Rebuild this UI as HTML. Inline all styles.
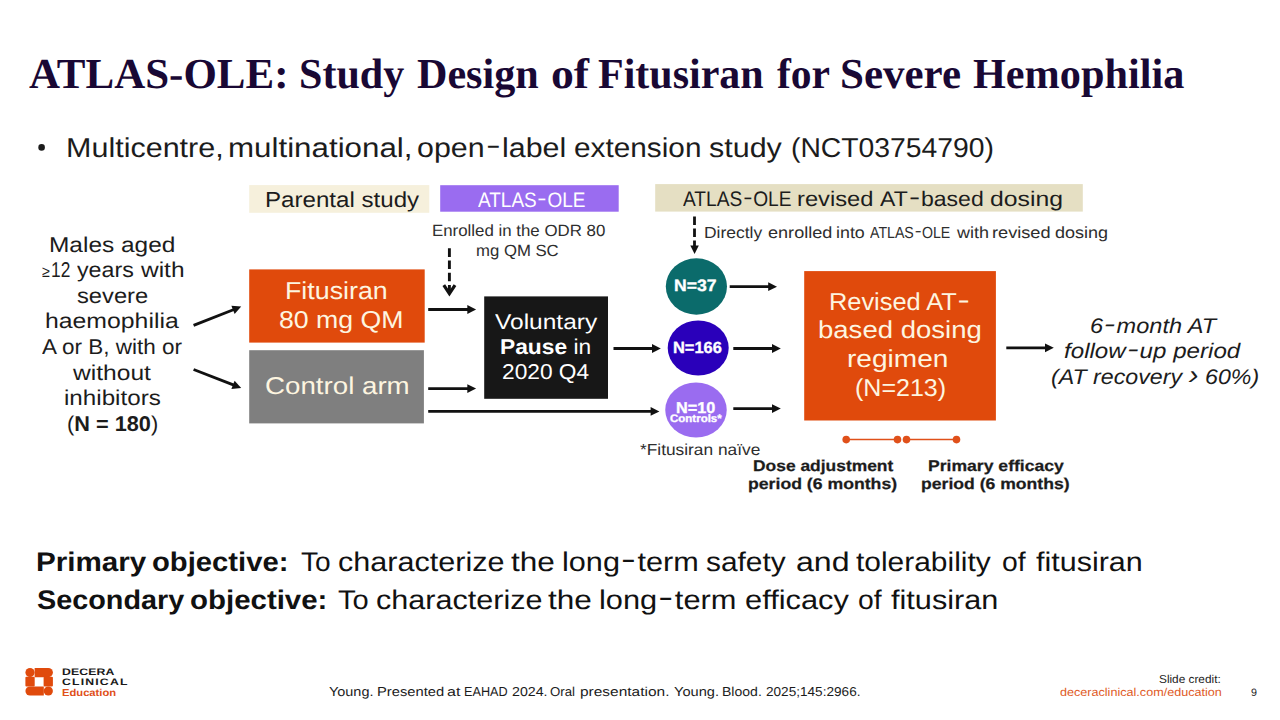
<!DOCTYPE html>
<html><head><meta charset="utf-8"><title>ATLAS-OLE Study Design</title>
<style>
html,body{margin:0;padding:0;background:#fff;}
body{width:1280px;height:720px;position:relative;overflow:hidden;font-family:"Liberation Sans",sans-serif;}
.t{position:absolute;white-space:nowrap;transform-origin:0 0;text-rendering:geometricPrecision;}
b{font-weight:700;}
.hy{display:inline-block;transform:translateY(-.1em) scaleX(1.45);margin:0 .12em;}
</style></head><body>
<svg width="1280" height="720" viewBox="0 0 1280 720" style="position:absolute;left:0;top:0"><rect x="249.2" y="185.1" width="180.1" height="27.7" fill="#f6f0dc"/><rect x="440.2" y="185.2" width="178.5" height="26.5" fill="#9a6cf0"/><rect x="655.2" y="184.1" width="427.6" height="27.5" fill="#e5dfc3"/><rect x="249.2" y="269.4" width="175.5" height="73.2" fill="#e04a0c"/><rect x="249.2" y="350.2" width="174.7" height="73.2" fill="#7f7f7f"/><rect x="484.2" y="296.4" width="123.8" height="102.4" fill="#171717"/><rect x="804.2" y="271.1" width="191.7" height="149.4" fill="#e04a0c"/><ellipse cx="696.4" cy="286.5" rx="30.6" ry="28.2" fill="#0b6b6b"/><ellipse cx="698.2" cy="348" rx="30.5" ry="27.6" fill="#2a00ba"/><ellipse cx="696" cy="410" rx="30.75" ry="27.5" fill="#9a6cf0"/><line x1="193.60" y1="325.40" x2="233.95" y2="309.47" stroke="#111" stroke-width="2.8"/><polygon points="241.20,306.60 234.63,313.93 231.40,305.74" fill="#111"/><line x1="193.60" y1="369.50" x2="233.93" y2="385.17" stroke="#111" stroke-width="2.8"/><polygon points="241.20,388.00 231.40,388.91 234.59,380.71" fill="#111"/><line x1="428.20" y1="309.50" x2="468.30" y2="309.50" stroke="#111" stroke-width="2.8"/><polygon points="476.10,309.50 467.30,313.90 467.30,305.10" fill="#111"/><line x1="428.20" y1="388.60" x2="468.30" y2="388.60" stroke="#111" stroke-width="2.8"/><polygon points="476.10,388.60 467.30,393.00 467.30,384.20" fill="#111"/><line x1="428.20" y1="411.40" x2="651.60" y2="411.40" stroke="#111" stroke-width="2.8"/><polygon points="659.40,411.40 650.60,415.80 650.60,407.00" fill="#111"/><line x1="613.50" y1="348.50" x2="653.00" y2="348.50" stroke="#111" stroke-width="2.8"/><polygon points="660.80,348.50 652.00,352.90 652.00,344.10" fill="#111"/><line x1="729.70" y1="286.70" x2="769.20" y2="286.70" stroke="#111" stroke-width="2.8"/><polygon points="777.00,286.70 768.20,291.10 768.20,282.30" fill="#111"/><line x1="733.30" y1="348.50" x2="773.00" y2="348.50" stroke="#111" stroke-width="2.8"/><polygon points="780.80,348.50 772.00,352.90 772.00,344.10" fill="#111"/><line x1="733.30" y1="408.60" x2="773.00" y2="408.60" stroke="#111" stroke-width="2.8"/><polygon points="780.80,408.60 772.00,413.00 772.00,404.20" fill="#111"/><line x1="1006.30" y1="347.80" x2="1046.00" y2="347.80" stroke="#111" stroke-width="2.8"/><polygon points="1053.80,347.80 1045.00,352.20 1045.00,343.40" fill="#111"/><line x1="449.4" y1="248.3" x2="449.4" y2="293.5" stroke="#111" stroke-width="2.9" stroke-dasharray="8.6 3.6"/><polyline points="443.8,285.2 449.4,293.6 455.0,285.2" fill="none" stroke="#111" stroke-width="3.2"/><line x1="694.5" y1="216.6" x2="694.5" y2="247" stroke="#111" stroke-width="2.8" stroke-dasharray="8.5 3.5"/><polygon points="690.3,245.4 698.8,245.4 694.55,254.1" fill="#111"/><line x1="846.2" y1="439.6" x2="897.5" y2="439.6" stroke="#e0501a" stroke-width="1.5"/><line x1="906.5" y1="439.6" x2="956.5" y2="439.6" stroke="#e0501a" stroke-width="1.5"/><circle cx="846.2" cy="439.6" r="3.8" fill="#e0501a"/><circle cx="897.5" cy="439.6" r="3.8" fill="#e0501a"/><circle cx="906.5" cy="439.6" r="3.8" fill="#e0501a"/><circle cx="956.5" cy="439.6" r="3.8" fill="#e0501a"/><circle cx="41.6" cy="147.4" r="3.3" fill="#1c1c1c"/><circle cx="30" cy="672.5" r="4.6" fill="#e04a0c"/><path d="M34.6,668 H48.3 A4.6,4.6 0 0 1 48.3,677.2 H34.6 Z" fill="#e04a0c"/><rect x="25.4" y="676.8" width="9.3" height="9.6" rx="1" fill="#e04a0c"/><rect x="43.6" y="676.8" width="9.3" height="9.6" rx="1" fill="#e04a0c"/><path d="M43.8,686.4 V695.6 H30 A4.6,4.6 0 0 1 30,686.4 Z" fill="#e04a0c"/><circle cx="48.3" cy="691" r="4.6" fill="#e04a0c"/></svg>
<div class="t" style="left:265.40px;top:186.42px;font-size:21.66px;line-height:28.15px;color:#1c1c1c;transform:scaleX(1.1131);">Parental study</div>
<div class="t" style="left:477.82px;top:186.95px;font-size:20.93px;line-height:27.21px;color:#ffffff;transform:scaleX(0.9067);">ATLAS<span class="hy">-</span>OLE</div>
<div class="t" style="left:48.98px;top:232.10px;font-size:21.37px;line-height:27.78px;color:#1c1c1c;transform:scaleX(1.1442);">Males aged</div>
<div class="t" style="left:77.06px;top:282.50px;font-size:21.37px;line-height:27.78px;color:#1c1c1c;transform:scaleX(1.1099);">severe</div>
<div class="t" style="left:44.50px;top:308.20px;font-size:21.37px;line-height:27.78px;color:#1c1c1c;transform:scaleX(1.1609);">haemophilia</div>
<div class="t" style="left:42.41px;top:333.90px;font-size:21.37px;line-height:27.78px;color:#1c1c1c;transform:scaleX(1.0531);">A or B, with or</div>
<div class="t" style="left:73.09px;top:360.10px;font-size:21.37px;line-height:27.78px;color:#1c1c1c;transform:scaleX(1.1517);">without</div>
<div class="t" style="left:63.52px;top:385.10px;font-size:21.37px;line-height:27.78px;color:#1c1c1c;transform:scaleX(1.1326);">inhibitors</div>
<div class="t" style="left:66.84px;top:411.10px;font-size:21.37px;line-height:27.78px;color:#1c1c1c;transform:scaleX(1.0165);">(<b>N = 180</b>)</div>
<div class="t" style="left:285.27px;top:276.19px;font-size:24.49px;line-height:31.84px;color:#fdf5e0;transform:scaleX(1.0938);">Fitusiran</div>
<div class="t" style="left:279.38px;top:305.19px;font-size:24.49px;line-height:31.84px;color:#fdf5e0;transform:scaleX(1.0891);">80 mg QM</div>
<div class="t" style="left:264.88px;top:370.60px;font-size:24.27px;line-height:31.56px;color:#fdf5e0;transform:scaleX(1.1415);">Control arm</div>
<div class="t" style="left:432.24px;top:221.03px;font-size:16.28px;line-height:21.16px;color:#2e2e2e;transform:scaleX(1.0361);">Enrolled in the ODR 80</div>
<div class="t" style="left:476.41px;top:240.83px;font-size:16.28px;line-height:21.16px;color:#2e2e2e;transform:scaleX(1.0281);">mg QM SC</div>
<div class="t" style="left:494.86px;top:308.90px;font-size:21.37px;line-height:27.78px;color:#ffffff;transform:scaleX(1.1478);">Voluntary</div>
<div class="t" style="left:500.04px;top:334.10px;font-size:21.37px;line-height:27.78px;color:#ffffff;transform:scaleX(1.0665);"><b>Pause</b> in</div>
<div class="t" style="left:501.60px;top:358.90px;font-size:21.37px;line-height:27.78px;color:#ffffff;transform:scaleX(1.0637);">2020 Q4</div>
<div class="t" style="left:673.88px;top:276.33px;font-size:16.42px;line-height:21.35px;color:#ffffff;font-weight:700;-webkit-text-stroke:0.35px #ffffff;transform:scaleX(1.0713);">N=37</div>
<div class="t" style="left:672.77px;top:337.58px;font-size:16.28px;line-height:21.16px;color:#ffffff;font-weight:700;-webkit-text-stroke:0.35px #ffffff;transform:scaleX(1.0103);">N=166</div>
<div class="t" style="left:676.42px;top:398.95px;font-size:15.70px;line-height:20.41px;color:#ffffff;font-weight:700;-webkit-text-stroke:0.35px #ffffff;transform:scaleX(1.0349);">N=10</div>
<div class="t" style="left:670.32px;top:412.16px;font-size:10.90px;line-height:14.17px;color:#ffffff;font-weight:700;-webkit-text-stroke:0.35px #ffffff;transform:scaleX(1.0558);">Controls*</div>
<div class="t" style="left:640.28px;top:440.70px;font-size:15.99px;line-height:20.79px;color:#2e2e2e;transform:scaleX(1.0831);">*Fitusiran na&#239;ve</div>
<div class="t" style="left:828.70px;top:287.39px;font-size:24.49px;line-height:31.84px;color:#fdf5e0;transform:scaleX(1.0359);">Revised AT<span class="hy">-</span></div>
<div class="t" style="left:817.94px;top:315.09px;font-size:24.49px;line-height:31.84px;color:#fdf5e0;transform:scaleX(1.1243);">based dosing</div>
<div class="t" style="left:847.24px;top:343.99px;font-size:24.49px;line-height:31.84px;color:#fdf5e0;transform:scaleX(1.1469);">regimen</div>
<div class="t" style="left:855.22px;top:373.20px;font-size:24.49px;line-height:31.84px;color:#fdf5e0;transform:scaleX(1.0221);">(N=213)</div>
<div class="t" style="left:1089.96px;top:313.05px;font-size:21.22px;line-height:27.59px;color:#1c1c1c;font-style:italic;transform:scaleX(1.1096);">6<span class="hy">-</span>month AT</div>
<div class="t" style="left:1064.14px;top:338.26px;font-size:21.22px;line-height:27.59px;color:#1c1c1c;font-style:italic;transform:scaleX(1.1381);">follow<span class="hy">-</span>up period</div>
<div class="t" style="left:1050.59px;top:363.95px;font-size:21.22px;line-height:27.59px;color:#1c1c1c;font-style:italic;transform:scaleX(1.0932);">(AT recovery <span style="font-size:1.3em;line-height:0">&#8250;</span> 60%)</div>
<div class="t" style="left:752.97px;top:456.50px;font-size:15.55px;line-height:20.22px;color:#1c1c1c;font-weight:700;-webkit-text-stroke:0.25px #1c1c1c;transform:scaleX(1.1200);">Dose adjustment</div>
<div class="t" style="left:748.43px;top:475.00px;font-size:15.55px;line-height:20.22px;color:#1c1c1c;font-weight:700;-webkit-text-stroke:0.25px #1c1c1c;transform:scaleX(1.1358);">period (6 months)</div>
<div class="t" style="left:927.92px;top:456.50px;font-size:15.55px;line-height:20.22px;color:#1c1c1c;font-weight:700;-webkit-text-stroke:0.25px #1c1c1c;transform:scaleX(1.1309);">Primary efficacy</div>
<div class="t" style="left:920.94px;top:475.00px;font-size:15.55px;line-height:20.22px;color:#1c1c1c;font-weight:700;-webkit-text-stroke:0.25px #1c1c1c;transform:scaleX(1.1321);">period (6 months)</div>
<div class="t" style="left:1158.99px;top:672.95px;font-size:11.48px;line-height:14.93px;color:#1c1c1c;transform:scaleX(1.0295);">Slide credit:</div>
<div class="t" style="left:1059.95px;top:685.72px;font-size:11.48px;line-height:14.93px;color:#e05a26;transform:scaleX(1.0986);">deceraclinical.com/education</div>
<div class="t" style="left:1250.54px;top:686.98px;font-size:10.76px;line-height:13.98px;color:#1c1c1c;transform:scaleX(0.9963);">9</div>
<div class="t" style="left:61.89px;top:667.23px;font-size:9.45px;line-height:12.29px;color:#1a1a1a;font-weight:700;letter-spacing:0.095px;transform:scaleX(1.3000);">DECERA</div>
<div class="t" style="left:62.17px;top:676.83px;font-size:9.45px;line-height:12.29px;color:#1a1a1a;font-weight:700;letter-spacing:0.897px;transform:scaleX(1.3000);">CLINICAL</div>
<div class="t" style="left:61.71px;top:686.54px;font-size:10.03px;line-height:13.04px;color:#e0501a;font-weight:700;transform:scaleX(1.1170);">Education</div>
<div class="t" style="left:66.38px;top:130.37px;font-size:27.33px;line-height:35.52px;color:#1c1c1c;transform:scaleX(1.1165);">Multicentre,</div>
<div class="t" style="left:228.04px;top:130.37px;font-size:27.33px;line-height:35.52px;color:#1c1c1c;transform:scaleX(1.1458);">multinational,</div>
<div class="t" style="left:416.84px;top:130.37px;font-size:27.33px;line-height:35.52px;color:#1c1c1c;transform:scaleX(1.1122);">open<span class="hy">-</span>label</div>
<div class="t" style="left:574.11px;top:130.37px;font-size:27.33px;line-height:35.52px;color:#1c1c1c;transform:scaleX(1.0893);">extension</div>
<div class="t" style="left:708.73px;top:130.37px;font-size:27.33px;line-height:35.52px;color:#1c1c1c;transform:scaleX(1.1154);">study</div>
<div class="t" style="left:790.97px;top:130.37px;font-size:27.33px;line-height:35.52px;color:#1c1c1c;transform:scaleX(1.0358);">(NCT03754790)</div>
<div class="t" style="left:683.22px;top:185.51px;font-size:21.08px;line-height:27.4px;color:#1c1c1c;transform:scaleX(0.9081);">ATLAS<span class="hy">-</span>OLE</div>
<div class="t" style="left:797.06px;top:186.24px;font-size:21.08px;line-height:27.4px;color:#1c1c1c;transform:scaleX(1.1236);">revised</div>
<div class="t" style="left:880.17px;top:186.24px;font-size:21.08px;line-height:27.4px;color:#1c1c1c;transform:scaleX(1.0932);">AT<span class="hy">-</span>based</div>
<div class="t" style="left:989.78px;top:186.24px;font-size:21.08px;line-height:27.4px;color:#1c1c1c;transform:scaleX(1.1752);">dosing</div>
<div class="t" style="left:704.30px;top:222.76px;font-size:16.13px;line-height:20.97px;color:#2e2e2e;transform:scaleX(1.0837);">Directly</div>
<div class="t" style="left:767.56px;top:222.74px;font-size:16.13px;line-height:20.97px;color:#2e2e2e;transform:scaleX(1.1225);">enrolled</div>
<div class="t" style="left:835.85px;top:222.74px;font-size:16.13px;line-height:20.97px;color:#2e2e2e;transform:scaleX(1.1071);">into</div>
<div class="t" style="left:870.30px;top:222.81px;font-size:16.13px;line-height:20.97px;color:#2e2e2e;transform:scaleX(0.8788);">ATLAS<span class="hy">-</span>OLE</div>
<div class="t" style="left:956.76px;top:222.74px;font-size:16.13px;line-height:20.97px;color:#2e2e2e;transform:scaleX(1.1148);">with</div>
<div class="t" style="left:992.24px;top:222.74px;font-size:16.13px;line-height:20.97px;color:#2e2e2e;transform:scaleX(1.1279);">revised</div>
<div class="t" style="left:1055.06px;top:222.74px;font-size:16.13px;line-height:20.97px;color:#2e2e2e;transform:scaleX(1.1182);">dosing</div>
<div class="t" style="left:35.86px;top:544.65px;font-size:27.04px;line-height:35.15px;color:#111111;font-weight:700;transform:scaleX(1.0960);">Primary</div>
<div class="t" style="left:151.95px;top:544.65px;font-size:27.04px;line-height:35.15px;color:#111111;font-weight:700;transform:scaleX(1.0810);">objective:</div>
<div class="t" style="left:300.94px;top:544.65px;font-size:27.04px;line-height:35.15px;color:#111111;transform:scaleX(1.0398);">To</div>
<div class="t" style="left:337.87px;top:544.65px;font-size:27.04px;line-height:35.15px;color:#111111;transform:scaleX(1.1310);">characterize</div>
<div class="t" style="left:510.93px;top:544.65px;font-size:27.04px;line-height:35.15px;color:#111111;transform:scaleX(1.1679);">the</div>
<div class="t" style="left:562.15px;top:544.65px;font-size:27.04px;line-height:35.15px;color:#111111;transform:scaleX(1.1336);">long<span class="hy">-</span>term</div>
<div class="t" style="left:706.13px;top:544.65px;font-size:27.04px;line-height:35.15px;color:#111111;transform:scaleX(1.1057);">safety</div>
<div class="t" style="left:795.90px;top:544.65px;font-size:27.04px;line-height:35.15px;color:#111111;transform:scaleX(1.1869);">and</div>
<div class="t" style="left:856.00px;top:544.65px;font-size:27.04px;line-height:35.15px;color:#111111;transform:scaleX(1.1071);">tolerability</div>
<div class="t" style="left:1002.17px;top:544.65px;font-size:27.04px;line-height:35.15px;color:#111111;transform:scaleX(1.0477);">of</div>
<div class="t" style="left:1035.84px;top:544.65px;font-size:27.04px;line-height:35.15px;color:#111111;transform:scaleX(1.1280);">fitusiran</div>
<div class="t" style="left:36.96px;top:583.15px;font-size:27.04px;line-height:35.15px;color:#111111;font-weight:700;transform:scaleX(1.0653);">Secondary</div>
<div class="t" style="left:189.96px;top:583.15px;font-size:27.04px;line-height:35.15px;color:#111111;font-weight:700;transform:scaleX(1.0891);">objective:</div>
<div class="t" style="left:338.35px;top:583.15px;font-size:27.04px;line-height:35.15px;color:#111111;transform:scaleX(1.0765);">To</div>
<div class="t" style="left:375.66px;top:583.15px;font-size:27.04px;line-height:35.15px;color:#111111;transform:scaleX(1.1313);">characterize</div>
<div class="t" style="left:548.28px;top:583.15px;font-size:27.04px;line-height:35.15px;color:#111111;transform:scaleX(1.1682);">the</div>
<div class="t" style="left:599.21px;top:583.15px;font-size:27.04px;line-height:35.15px;color:#111111;transform:scaleX(1.1388);">long<span class="hy">-</span>term</div>
<div class="t" style="left:744.99px;top:583.15px;font-size:27.04px;line-height:35.15px;color:#111111;transform:scaleX(1.1393);">efficacy</div>
<div class="t" style="left:857.78px;top:583.15px;font-size:27.04px;line-height:35.15px;color:#111111;transform:scaleX(1.0477);">of</div>
<div class="t" style="left:890.84px;top:583.15px;font-size:27.04px;line-height:35.15px;color:#111111;transform:scaleX(1.1336);">fitusiran</div>
<div class="t" style="left:328.79px;top:684.13px;font-size:12.94px;line-height:16.82px;color:#1c1c1c;transform:scaleX(1.1162);">Young.</div>
<div class="t" style="left:377.16px;top:684.15px;font-size:12.94px;line-height:16.82px;color:#1c1c1c;transform:scaleX(1.1385);">Presented</div>
<div class="t" style="left:447.16px;top:684.05px;font-size:12.94px;line-height:16.82px;color:#1c1c1c;transform:scaleX(1.2372);">at</div>
<div class="t" style="left:463.79px;top:684.27px;font-size:12.94px;line-height:16.82px;color:#1c1c1c;transform:scaleX(0.9779);">EAHAD</div>
<div class="t" style="left:512.15px;top:684.17px;font-size:12.94px;line-height:16.82px;color:#1c1c1c;transform:scaleX(1.0980);">2024.</div>
<div class="t" style="left:550.21px;top:684.21px;font-size:12.94px;line-height:16.82px;color:#1c1c1c;transform:scaleX(1.0232);">Oral</div>
<div class="t" style="left:579.89px;top:684.05px;font-size:12.94px;line-height:16.82px;color:#1c1c1c;transform:scaleX(1.1957);">presentation.</div>
<div class="t" style="left:673.78px;top:684.13px;font-size:12.94px;line-height:16.82px;color:#1c1c1c;transform:scaleX(1.1288);">Young.</div>
<div class="t" style="left:721.73px;top:684.15px;font-size:12.94px;line-height:16.82px;color:#1c1c1c;transform:scaleX(1.0850);">Blood.</div>
<div class="t" style="left:766.37px;top:684.19px;font-size:12.94px;line-height:16.82px;color:#1c1c1c;transform:scaleX(1.0504);">2025;145:2966.</div>
<div class="t" style="left:29.00px;top:46.87px;font-size:42.67px;line-height:55.47px;color:#190834;font-family:'Liberation Serif', serif;font-weight:700;transform:scaleX(1.0073);">ATLAS-OLE:</div>
<div class="t" style="left:299.01px;top:46.87px;font-size:42.67px;line-height:55.47px;color:#190834;font-family:'Liberation Serif', serif;font-weight:700;transform:scaleX(0.9867);">Study</div>
<div class="t" style="left:417.00px;top:46.87px;font-size:42.67px;line-height:55.47px;color:#190834;font-family:'Liberation Serif', serif;font-weight:700;transform:scaleX(0.9872);">Design</div>
<div class="t" style="left:550.93px;top:46.87px;font-size:42.67px;line-height:55.47px;color:#190834;font-family:'Liberation Serif', serif;font-weight:700;transform:scaleX(1.0722);">of</div>
<div class="t" style="left:598.00px;top:46.87px;font-size:42.67px;line-height:55.47px;color:#190834;font-family:'Liberation Serif', serif;font-weight:700;transform:scaleX(0.9845);">Fitusiran</div>
<div class="t" style="left:777.01px;top:46.87px;font-size:42.67px;line-height:55.47px;color:#190834;font-family:'Liberation Serif', serif;font-weight:700;transform:scaleX(0.9744);">for</div>
<div class="t" style="left:840.00px;top:46.87px;font-size:42.67px;line-height:55.47px;color:#190834;font-family:'Liberation Serif', serif;font-weight:700;transform:scaleX(1.0081);">Severe</div>
<div class="t" style="left:973.00px;top:46.87px;font-size:42.67px;line-height:55.47px;color:#190834;font-family:'Liberation Serif', serif;font-weight:700;transform:scaleX(0.9904);">Hemophilia</div>
<div class="t" style="left:42.13px;top:257.35px;font-size:21.37px;line-height:27.78px;color:#1c1c1c;transform:scaleX(0.8840);"><span style="font-size:0.75em">&#8805;</span></div>
<div class="t" style="left:50.51px;top:257.36px;font-size:21.37px;line-height:27.78px;color:#1c1c1c;transform:scaleX(0.8129);">12</div>
<div class="t" style="left:76.74px;top:257.30px;font-size:21.37px;line-height:27.78px;color:#1c1c1c;transform:scaleX(1.0867);">years</div>
<div class="t" style="left:141.05px;top:256.90px;font-size:21.37px;line-height:27.78px;color:#1c1c1c;transform:scaleX(1.1462);">with</div>
</body></html>
